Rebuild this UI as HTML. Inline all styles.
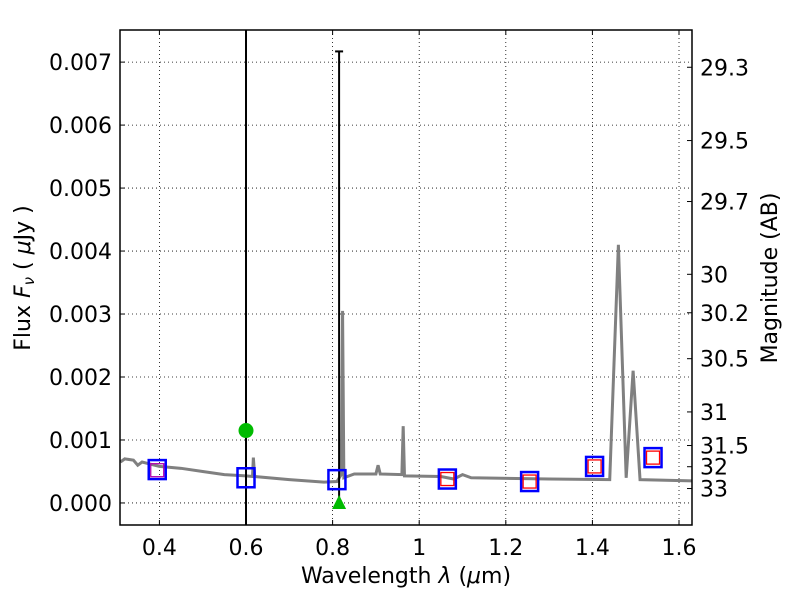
<!DOCTYPE html>
<html><head><meta charset="utf-8"><style>
body{margin:0;background:#fff}
text{font-family:"DejaVu Sans","Liberation Sans",sans-serif;fill:#000}
</style></head><body>
<svg id="c" width="800" height="600" xmlns="http://www.w3.org/2000/svg"></svg>
<script>
const xTicks=[0.4,0.6,0.8,1.0,1.2,1.4,1.6];
const xTickLabels=["0.4","0.6","0.8","1","1.2","1.4","1.6"];
const yTicks=[0,0.001,0.002,0.003,0.004,0.005,0.006,0.007];
const yTickLabels=["0.000","0.001","0.002","0.003","0.004","0.005","0.006","0.007"];
const magTicks=[29.3,29.5,29.7,30,30.2,30.5,31,31.5,32,33];
const specWave=[0.31,0.32,0.34,0.35,0.36,0.40,0.45,0.50,0.55,0.60,0.615,0.617,0.62,0.70,0.78,0.81,0.82,0.823,0.826,0.85,0.90,0.905,0.91,0.96,0.963,0.966,1.05,1.08,1.10,1.12,1.30,1.44,1.46,1.478,1.494,1.51,1.63];
const specFlux=[0.00065,0.0007,0.00068,0.0006,0.00065,0.00058,0.00055,0.0005,0.00045,0.00043,0.00042,0.00072,0.00042,0.00037,0.00033,0.00034,0.00045,0.00305,0.0004,0.00046,0.00046,0.0006,0.00046,0.00045,0.00122,0.00043,0.00042,0.00038,0.00045,0.0004,0.00038,0.00037,0.0041,0.0004,0.0021,0.00037,0.00035];
const obsWave=[0.395,0.6,0.81,1.065,1.255,1.405,1.54];
const obsFlux=[0.00053,0.0004,0.00037,0.00038,0.00034,0.00058,0.00072];
const modWave=[0.395,1.065,1.255,1.405,1.54];
const modFlux=[0.00052,0.00038,0.00034,0.00058,0.00072];
const circWave=[0.6], circFlux=[0.00115];
const errWave=[0.815], errLo=[0], errHi=[0.00717];
const vlineWave=[0.6];

const L=120,R=692,T=30,B=525,x0=0.309,x1=1.63,y0=-0.00035,y1=0.00751;
const X=v=>L+(v-x0)/(x1-x0)*(R-L);
const Y=v=>B-(v-y0)/(y1-y0)*(B-T);
const svg=document.getElementById('c');
const NS="http://www.w3.org/2000/svg";
function mk(t,a,name){const e=document.createElementNS(NS,t);for(const k in a)e.setAttribute(k,a[k]);


svg.appendChild(e);return e;}
mk('rect',{x:L,y:T,width:R-L,height:B-T,fill:'#fff'},'plot-area');
xTicks.forEach((v,i)=>{const x=X(v);
mk('line',{x1:x,x2:x,y1:T,y2:B,stroke:'#000','stroke-width':0.8,'stroke-dasharray':'1,3'},'x-grid');
mk('line',{x1:x,x2:x,y1:B,y2:B-5,stroke:'#000'},'x-tick');mk('line',{x1:x,x2:x,y1:T,y2:T+5,stroke:'#000'},'x-tick-top');
const t=mk('text',{x:x,y:B+30,'font-size':22,'text-anchor':'middle'},'x-tick-label');t.textContent=xTickLabels[i];});
yTicks.forEach((v,i)=>{const y=Y(v);
mk('line',{x1:L,x2:R,y1:y,y2:y,stroke:'#000','stroke-width':0.8,'stroke-dasharray':'1,3'},'y-grid');
mk('line',{x1:L,x2:L+5,y1:y,y2:y,stroke:'#000'},'y-tick');
const t=mk('text',{x:L-8,y:y+8,'font-size':22,'text-anchor':'end'},'y-tick-label');t.textContent=yTickLabels[i];});
magTicks.forEach(m=>{const y=Y(Math.pow(10,(23.9-m)/2.5));
mk('line',{x1:R,x2:R-5,y1:y,y2:y,stroke:'#000'},'mag-tick');
const t=mk('text',{x:R+8,y:y+8,'font-size':22},'mag-tick-label');t.textContent=String(m);});
mk('polyline',{points:specWave.map((w,i)=>X(w)+','+Y(specFlux[i])).join(' '),fill:'none',stroke:'#808080','stroke-width':3},'model-spectrum');
vlineWave.forEach(w=>mk('line',{x1:X(w),x2:X(w),y1:T,y2:B,stroke:'#000','stroke-width':2},'vertical-line'));
errWave.forEach((w,i)=>{const x=X(w);mk('line',{x1:x,x2:x,y1:Y(errLo[i]),y2:Y(errHi[i]),stroke:'#000','stroke-width':2},'error-bar');
mk('line',{x1:x-4,x2:x+4,y1:Y(errHi[i]),y2:Y(errHi[i]),stroke:'#000','stroke-width':2},'error-cap');
const y=Y(errLo[i]);mk('polygon',{points:`${x},${y-8} ${x-7},${y+6} ${x+7},${y+6}`,fill:'#00bb00'},'upper-limit-triangle');});
circWave.forEach((w,i)=>mk('circle',{cx:X(w),cy:Y(circFlux[i]),r:7.5,fill:'#00bb00'},'green-point'));
obsWave.forEach((w,i)=>mk('rect',{x:X(w)-8.5,y:Y(obsFlux[i])-9.5,width:17,height:19,fill:'none',stroke:'#00f','stroke-width':2.5},'observed-flux-square'));
modWave.forEach((w,i)=>mk('rect',{x:X(w)-6.5,y:Y(modFlux[i])-6.5,width:13,height:13,fill:'none',stroke:i==0?'#b000b0':'#f00','stroke-width':1.3},'model-flux-square'));
mk('rect',{x:L,y:T,width:R-L,height:B-T,fill:'none',stroke:'#000','stroke-width':1.5},'plot-frame');
let t=mk('text',{x:406,y:583,'font-size':22,'text-anchor':'middle'},'x-axis-title');t.innerHTML='Wavelength  <tspan font-style="italic">λ</tspan> (<tspan font-style="italic">μ</tspan>m)';
t=mk('text',{x:0,y:0,'font-size':22,'text-anchor':'middle',transform:'translate(30,278) rotate(-90)'},'y-axis-title');t.innerHTML='Flux  <tspan font-style="italic">F<tspan font-size="15" dy="4">ν</tspan></tspan><tspan dy="-4"> (  </tspan><tspan font-style="italic">μ</tspan>Jy )';
t=mk('text',{x:0,y:0,'font-size':22,'text-anchor':'middle',transform:'translate(777,278) rotate(-90)'},'right-axis-title');t.textContent='Magnitude (AB)';
</script></body></html>
